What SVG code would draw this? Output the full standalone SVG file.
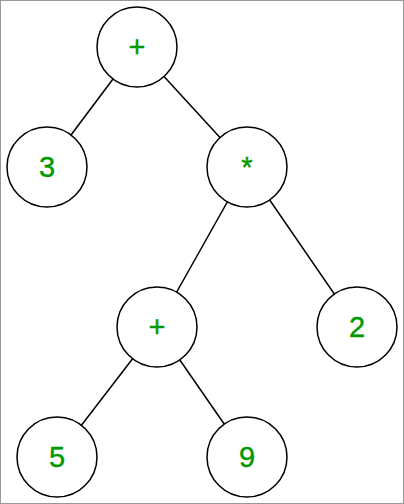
<svg xmlns="http://www.w3.org/2000/svg" width="404" height="504" viewBox="0 0 404 504">
<style>
.n circle{fill:#fff;stroke:#000;stroke-width:1.5}
.n text{font-family:"Liberation Sans",Arial,sans-serif;font-size:29px;fill:#009900;stroke:#009900;stroke-width:0.4;text-anchor:middle}
#edges line{stroke:#000;stroke-width:1.5}
</style>
<rect x="0.5" y="0.5" width="403" height="503" fill="#fff" stroke="#999" stroke-width="1"/>
<g id="edges">
<line x1="137" y1="47" x2="47" y2="167"/>
<line x1="137" y1="47" x2="247" y2="167"/>
<line x1="247" y1="167" x2="157" y2="327"/>
<line x1="247" y1="167" x2="357" y2="327"/>
<line x1="157" y1="327" x2="57" y2="457"/>
<line x1="157" y1="327" x2="247" y2="457"/>
</g>
<g id="n-root" class="n"><circle cx="137" cy="47" r="40"/><text x="137" y="57">+</text></g>
<g id="n-3" class="n"><circle cx="47" cy="167" r="40"/><text x="47" y="177">3</text></g>
<g id="n-mul" class="n"><circle cx="247" cy="167" r="40"/><text x="247" y="177">*</text></g>
<g id="n-plus2" class="n"><circle cx="157" cy="327" r="40"/><text x="157" y="337">+</text></g>
<g id="n-2" class="n"><circle cx="357" cy="327" r="40"/><text x="357" y="337">2</text></g>
<g id="n-5" class="n"><circle cx="57" cy="457" r="40"/><text x="57" y="467">5</text></g>
<g id="n-9" class="n"><circle cx="247" cy="457" r="40"/><text x="247" y="467">9</text></g>
</svg>
